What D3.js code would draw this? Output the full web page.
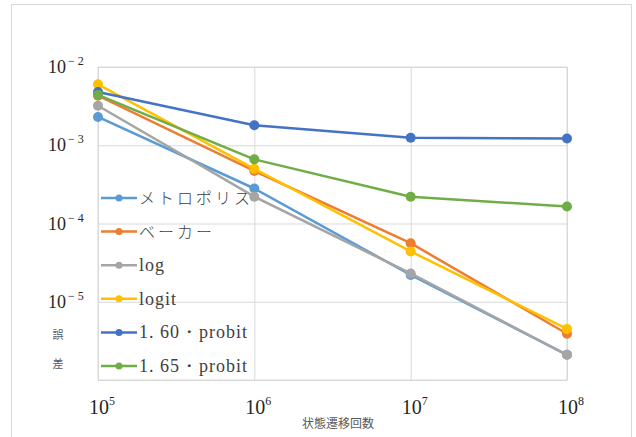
<!DOCTYPE html>
<html>
<head>
<meta charset="utf-8">
<script src="https://cdn.jsdelivr.net/npm/d3@7"></script>
<style>
  body { margin: 0; background: #fff; }
  svg { display: block; }
</style>
</head>
<body>
<svg id="chart" width="636" height="437"></svg>
<script>
// transitions (x) and error values per method
const steps = [1e5, 1e6, 1e7, 1e8];
const metropolis = [2.3e-3, 2.8e-4, 2.2e-5, 2.1e-6];
const baker = [4.3e-3, 4.7e-4, 5.6e-5, 3.9e-6];
const logRule = [3.2e-3, 2.2e-4, 2.3e-5, 2.1e-6];
const logit = [6.0e-3, 5.0e-4, 4.4e-5, 4.5e-6];
const probit160 = [4.8e-3, 1.8e-3, 1.25e-3, 1.22e-3];
const probit165 = [4.4e-3, 6.6e-4, 2.2e-4, 1.65e-4];

const seriesNames = ["メトロポリス", "ベーカー", "log", "logit", "1. 60・probit", "1. 65・probit"];
const seriesColors = ["#5b9bd5", "#ed7d31", "#a5a5a5", "#ffc000", "#4472c4", "#70ad47"];
const seriesValues = [metropolis, baker, logRule, logit, probit160, probit165];

const xTicks = [1e5, 1e6, 1e7, 1e8];
const yTicks = [1e-2, 1e-3, 1e-4, 1e-5];

const gridColor = "#d9d9d9";
const textColor = "#595959";
const serif = "'Liberation Serif', serif";
const cjk = "'Noto Sans CJK JP', sans-serif";

const margin = { left: 98, top: 67 };
const plotWidth = 469;
const plotHeight = 313;

const svg = d3.select("#chart");

// outer frame
svg.append("rect")
  .attr("x", 11.5).attr("y", 4.5)
  .attr("width", 620).attr("height", 440)
  .attr("fill", "none")
  .attr("stroke", "#d9d9d9");

const chart = svg.append("g")
  .attr("transform", `translate(${margin.left}, ${margin.top})`);

const xScale = d3.scaleLog().domain([1e5, 1e8]).range([0, plotWidth]);
const yScale = d3.scaleLog().domain([1e-6, 1e-2]).range([plotHeight, 0]);

// gridlines
const yAxis = chart.append("g")
  .call(d3.axisLeft(yScale).tickValues([1e-2, 1e-3, 1e-4, 1e-5, 1e-6])
    .tickSize(-plotWidth).tickFormat(""));
yAxis.select(".domain").remove();
yAxis.selectAll(".tick line").attr("stroke", gridColor);

const xAxis = chart.append("g")
  .attr("transform", `translate(0, ${plotHeight})`)
  .call(d3.axisBottom(xScale).tickValues(xTicks)
    .tickSize(-plotHeight).tickFormat(""));
xAxis.select(".domain").remove();
xAxis.selectAll(".tick line").attr("stroke", gridColor);

chart.append("rect")
  .attr("width", plotWidth).attr("height", plotHeight)
  .attr("fill", "none").attr("stroke", gridColor);

// y tick labels: 10^-n
yTicks.forEach((t) => {
  const txt = chart.append("text")
    .attr("x", -50).attr("y", yScale(t) + 6)
    .attr("font-family", serif).attr("font-size", 18)
    .attr("fill", "#262626");
  txt.append("tspan").text("10");
  txt.append("tspan").attr("dy", -8).attr("dx", 2)
    .attr("font-size", 12).text("− " + (-Math.round(Math.log10(t))));
});

// x tick labels: 10^n
xTicks.forEach((t) => {
  const txt = chart.append("text")
    .attr("x", xScale(t) - 9).attr("y", plotHeight + 34)
    .attr("font-family", serif).attr("font-size", 20)
    .attr("fill", "#262626");
  txt.append("tspan").text("10");
  txt.append("tspan").attr("dy", -9)
    .attr("font-size", 12).text(Math.round(Math.log10(t)));
});

// axis titles
chart.append("text")
  .attr("x", 240).attr("y", plotHeight + 48)
  .attr("text-anchor", "middle")
  .attr("font-family", cjk).attr("font-size", 12)
  .attr("fill", textColor)
  .text("状態遷移回数");

const yTitle = chart.append("text")
  .attr("font-family", cjk).attr("font-size", 11)
  .attr("fill", textColor)
  .attr("text-anchor", "middle");
yTitle.append("tspan").attr("x", -40).attr("y", 272).text("誤");
yTitle.append("tspan").attr("x", -40).attr("y", 301).text("差");

// lines + markers
const line = d3.line()
  .x((d, i) => xScale(steps[i]))
  .y((d) => yScale(d));

seriesValues.forEach((values, s) => {
  const g = chart.append("g");
  g.append("path")
    .datum(values)
    .attr("fill", "none")
    .attr("stroke", seriesColors[s])
    .attr("stroke-width", 2.5)
    .attr("stroke-linejoin", "round")
    .attr("d", line);
  g.selectAll("circle")
    .data(values)
    .enter()
    .append("circle")
    .attr("cx", (d, i) => xScale(steps[i]))
    .attr("cy", (d) => yScale(d))
    .attr("r", 5)
    .attr("fill", seriesColors[s]);
});

// legend
const legend = svg.append("g").attr("transform", "translate(101, 198)");
seriesNames.forEach((name, i) => {
  const row = legend.append("g").attr("transform", `translate(0, ${i * 33.6})`);
  row.append("line")
    .attr("x1", 0).attr("x2", 36)
    .attr("stroke", seriesColors[i]).attr("stroke-width", 2.5);
  row.append("circle")
    .attr("cx", 18).attr("r", 3.5)
    .attr("fill", seriesColors[i]);
  row.append("text")
    .attr("x", 38).attr("y", 6)
    .attr("font-family", i < 2 ? cjk : serif)
    .attr("font-weight", i < 2 ? 300 : 400)
    .attr("font-size", i < 2 ? 16 : 18)
    .attr("letter-spacing", i < 2 ? 3 : 1)
    .attr("fill", "#404040")
    .text(name);
});
</script>
</body>
</html>
